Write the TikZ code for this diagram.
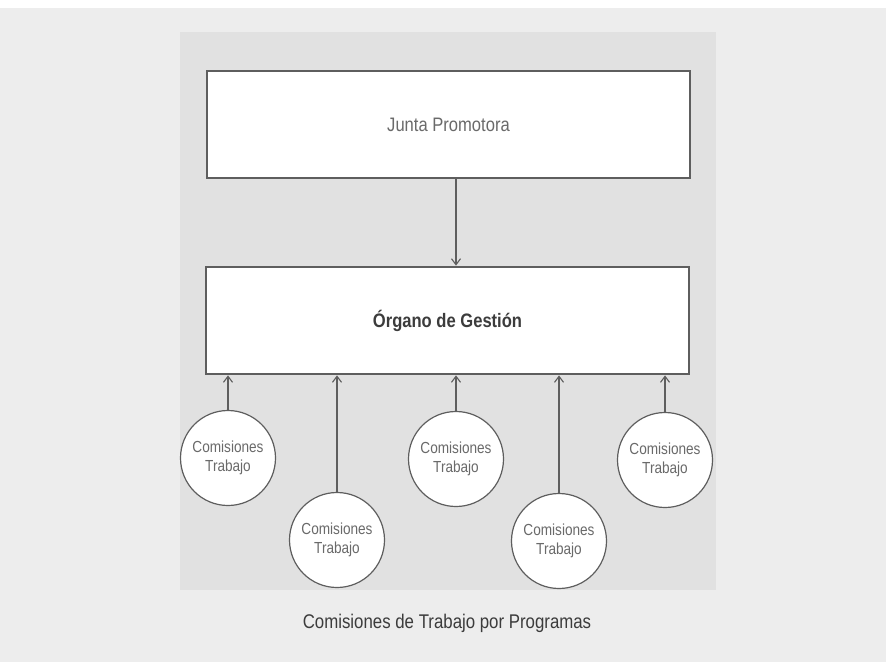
\documentclass[tikz,border=0pt]{standalone}
\usepackage{fontspec}
\setmainfont{Liberation Sans}[FakeStretch=0.85]
\usetikzlibrary{arrows.meta}
\definecolor{pagegray}{HTML}{EDEDED}
\definecolor{panelgray}{HTML}{E1E1E1}
\definecolor{linegray}{HTML}{5E5E5E}
\definecolor{textgray}{HTML}{6A6A6A}
\definecolor{darktext}{HTML}{3C3C3C}
\begin{document}
\begin{tikzpicture}[x=1pt, y=-1pt,
		arr/.style={draw=linegray, line width=1.1pt, -{Straight Barb[length=6pt, width=9pt]}},
		board/.style={draw=linegray, fill=white, minimum width=483pt, minimum height=107pt, inner sep=0pt},
		comision/.style={circle, draw=linegray, line width=1.2pt, fill=white, minimum size=95pt, inner sep=0pt, align=center, text=textgray, font=\fontsize{16}{19}\selectfont}]
		% fondo
		\fill[pagegray] (0,0) rectangle (886,662);
		\fill[white] (0,0) rectangle (886,8);
		\fill[panelgray] (180,32) rectangle (716,590);
		% cajas
		\node[board, line width=1.4pt, text=textgray, font=\fontsize{19.5}{23}\selectfont] (junta) at (448.5,124.5) {Junta Promotora};
		\node[board, line width=2.8pt, text=darktext, font=\fontsize{19.5}{23}\selectfont\bfseries] (organo) at (447.5,320.5) {Órgano de Gestión};
		% comisiones
		\node[comision] (c1) at (228,458) {Comisiones\\Trabajo};
		\node[comision] (c2) at (337,540) {Comisiones\\Trabajo};
		\node[comision] (c3) at (456,459) {Comisiones\\Trabajo};
		\node[comision] (c4) at (559,541) {Comisiones\\Trabajo};
		\node[comision] (c5) at (665,460) {Comisiones\\Trabajo};
		\draw[arr] (junta.south -| c3) -- (organo.north -| c3);
		\foreach \c in {c1,c2,c3,c4,c5}
			\draw[arr] (\c.north) -- (organo.south -| \c);
		\node[anchor=base, text=darktext, font=\fontsize{19.8}{23}\selectfont] (pie) at (447,628) {Comisiones de Trabajo por Programas};
	\end{tikzpicture}
\end{document}
